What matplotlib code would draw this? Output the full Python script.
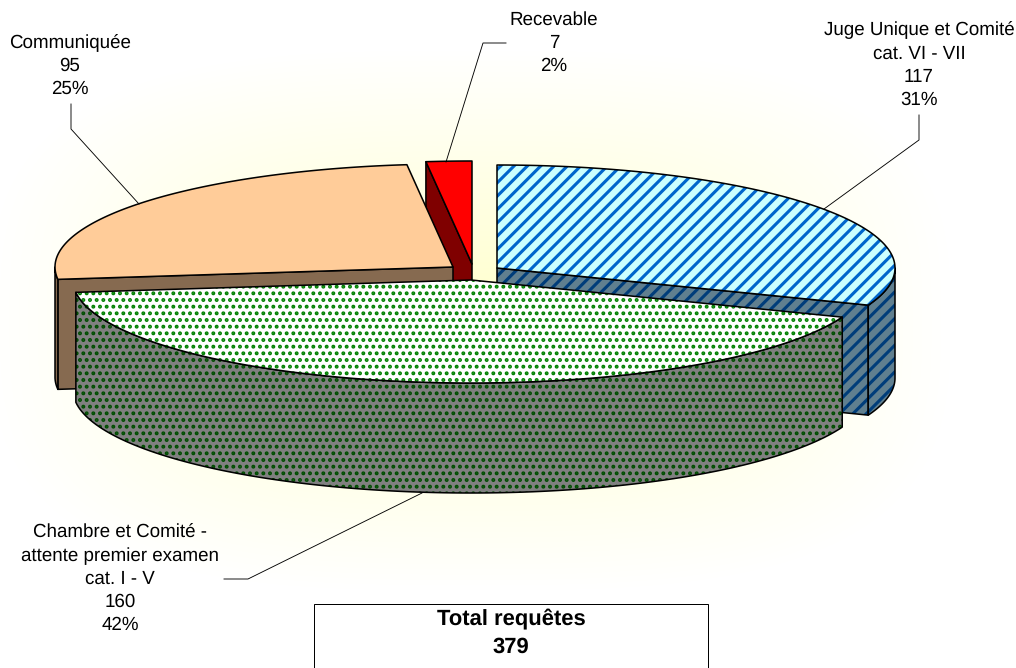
import numpy as np
import matplotlib
matplotlib.use("Agg")
import matplotlib.pyplot as plt
from matplotlib.patches import Polygon, Rectangle

plt.rcParams['font.family'] = ['Liberation Sans', 'DejaVu Sans']
plt.rcParams['text.hinting'] = 'none'

# values, clockwise from 12 o'clock as in the original sheet
categories = ["Juge Unique et Comité\ncat. VI - VII",
              "Chambre et Comité -\nattente premier examen\ncat. I - V",
              "Communiquée",
              "Recevable"]
values = [117, 160, 95, 7]
total = 379

# pie geometry (pixels)
RX, RY, DEPTH = 398, 103, 110
centers = [(497, 268), (471, 280), (453, 267), (472, 264)]

top_face = ['#CCFFFF', '#FFFFFF', '#FFCC99', '#FF0000']
top_hatch = ['#0066CC', '#008000', '#FFCC99', '#FF0000']
side_face = ['#607F8F', '#808080', '#866A50', '#7F0000']
side_hatch = ['#003D7A', '#004D00', '#866A50', '#7F0000']
hatches = ['//', '..', None, None]
hatch_lw = [2.8, 2.3, 1.0, 1.0]

W, H = 1016, 668
DPI = 80
FS = 16.9
FS_BOLD = 19.8


class HatchPolygon(Polygon):
    # hatch width is a global rc setting, so switch it per patch at draw time
    def __init__(self, pts, hlw, **kw):
        super().__init__(pts, **kw)
        self.hlw = hlw

    def draw(self, renderer):
        self._hatch_linewidth = self.hlw
        with plt.rc_context({'hatch.linewidth': self.hlw}):
            super().draw(renderer)


def point(c, theta):
    return np.array([c[0] + RX * np.sin(theta), c[1] - RY * np.cos(theta)])


def arc(c, t0, t1):
    t = np.linspace(t0, t1, 120)
    return np.column_stack([c[0] + RX * np.sin(t), c[1] - RY * np.cos(t)])


def face(ax, pts, fc, hc, hatch, hlw, z):
    ax.add_patch(HatchPolygon(pts, hlw, closed=True, facecolor=fc, edgecolor=hc,
                              hatch=hatch, linewidth=0, zorder=z))
    ax.add_patch(Polygon(pts, closed=True, fill=False, edgecolor='black',
                         linewidth=1.4, joinstyle='round', zorder=z))


fig = plt.figure(figsize=(W / DPI, H / DPI), dpi=DPI)
ax = fig.add_axes([0, 0, 1, 1])
ax.set_xlim(0, W)
ax.set_ylim(H, 0)
ax.axis('off')

# soft yellow glow behind the pie
yy, xx = np.mgrid[0:H, 0:W]
dist = ((np.abs(xx - 470) / 480) ** 3 + (np.abs(yy - 320) / 270) ** 3) ** (1 / 3)
glow = np.clip(1 - dist, 0, 1)
rgb = np.ones((H, W, 3))
rgb[..., 2] = 1 - 0.2 * glow
ax.imshow(rgb, extent=(0, W, H, 0), aspect='auto', zorder=0)
ax.set_xlim(0, W)
ax.set_ylim(H, 0)

# start/end angle of each slice
edges = np.concatenate([[0], np.cumsum(values)]) / total * 2 * np.pi

# back to front: red, blue, orange, green
z = 2
for i in [3, 0, 2, 1]:
    c = np.array(centers[i], dtype=float)
    t0, t1 = edges[i], edges[i + 1]
    down = np.array([0, DEPTH])

    # radial walls, only those turned towards the viewer
    visible = []
    if t0 > np.pi:
        visible.append(t0)
    if t1 < np.pi:
        visible.append(t1)
    for t in visible:
        p = point(c, t)
        pts = np.array([c, p, p + down, c + down])
        face(ax, pts, side_face[i], side_hatch[i], hatches[i], hatch_lw[i], z)

    # curved wall, only the part facing the viewer
    a0, a1 = max(t0, np.pi / 2), min(t1, 3 * np.pi / 2)
    if a1 > a0:
        rim = arc(c, a0, a1)
        pts = np.vstack([rim, (rim + down)[::-1]])
        face(ax, pts, side_face[i], side_hatch[i], hatches[i], hatch_lw[i], z)

    # top
    pts = np.vstack([c, arc(c, t0, t1)])
    face(ax, pts, top_face[i], top_hatch[i], hatches[i], hatch_lw[i], z + 0.5)
    z += 1

# data labels
label_pos = [(919, 65), (120, 579), (70, 66), (554, 43)]
for name, v, (lx, ly) in zip(categories, values, label_pos):
    txt = "%s\n%d\n%d%%" % (name, v, round(v / total * 100))
    ax.text(lx, ly, txt, ha='center', va='center', fontsize=FS, color='black',
            linespacing=1.39, zorder=20)

# leader lines
leaders = [[(919, 115), (919, 140), (824, 209)],
           [(224, 579), (248, 579), (422, 493)],
           [(71, 104), (71, 129), (139, 204)],
           [(506, 43), (483, 43), (446, 162)]]
for pts in leaders:
    xs, ys = zip(*pts)
    ax.plot(xs, ys, color='black', linewidth=0.8, zorder=15)

# total box, runs off the bottom of the sheet
ax.add_patch(Rectangle((314, 604), 394, 80, facecolor='white', edgecolor='black',
                       linewidth=0.9, zorder=18))
ax.text(511, 619, "Total requêtes", ha='center', va='center', fontsize=FS_BOLD,
        fontweight='bold', zorder=20)
ax.text(511, 647, str(total), ha='center', va='center', fontsize=FS_BOLD,
        fontweight='bold', zorder=20)

fig.savefig('out.png', dpi=DPI, facecolor='white')
